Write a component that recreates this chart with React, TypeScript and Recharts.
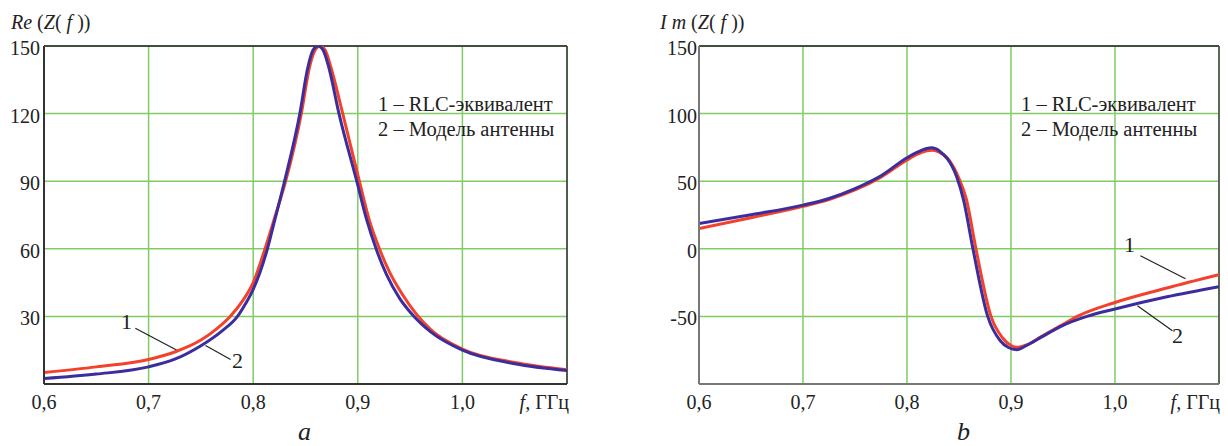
import { CartesianGrid, Line, LineChart, ReferenceLine, XAxis, YAxis } from 'recharts';

// Re(Z(f)) - panel a
const reFreqRlc = [0.6, 0.65, 0.7, 0.725, 0.75, 0.765, 0.778, 0.79, 0.8, 0.8113, 0.82, 0.831, 0.846, 0.854, 0.859, 0.864, 0.869, 0.874, 0.8856, 0.9015, 0.911, 0.9207, 0.93, 0.943, 0.956, 0.97, 1.0, 1.05, 1.1];
const reValsRlc = [5.1, 7.6, 10.9, 14.2, 19.5, 24.5, 30, 37, 45, 60, 73, 90, 120, 141, 148, 150, 148, 141, 120, 90, 72.7, 60, 50, 39.5, 31, 24, 15.5, 9.5, 6.3];
const reFreqModel = [0.6, 0.65, 0.7, 0.725, 0.75, 0.77, 0.785, 0.7925, 0.8, 0.8136, 0.8206, 0.83, 0.8446, 0.852, 0.857, 0.862, 0.867, 0.872, 0.882, 0.899, 0.9086, 0.9175, 0.9275, 0.94, 0.9527, 0.97, 1.0, 1.05, 1.1];
const reValsModel = [2.4, 4.4, 7.6, 11, 17, 23.5, 30, 35.5, 42, 60, 72.7, 90, 120, 140, 148, 150, 148, 141, 120, 90, 72.7, 60, 48.5, 38, 30.5, 23, 15, 9, 6];

// Im(Z(f)) - panel b
const imFreqRlc = [0.6, 0.65, 0.7, 0.725, 0.75, 0.775, 0.8, 0.81, 0.818, 0.824, 0.83, 0.8405, 0.8505, 0.857, 0.8663, 0.8808, 0.892, 0.9, 0.906, 0.915, 0.93, 0.9475, 0.9637, 1.0, 1.05, 1.1];
const imValsRlc = [15, 23, 31.4, 36.5, 43.5, 53, 65.7, 70, 72.4, 72.9, 71.8, 65.5, 51, 37, 0, -50, -66, -71.5, -72.9, -71, -64.5, -57, -50, -39.7, -29, -19.2];
const imFreqModel = [0.6, 0.65, 0.7, 0.725, 0.75, 0.775, 0.8, 0.81, 0.818, 0.824, 0.829, 0.834, 0.8384, 0.848, 0.8544, 0.8634, 0.8776, 0.8897, 0.8975, 0.9056, 0.915, 0.93, 0.9475, 0.973, 1.0, 1.05, 1.1];
const imValsModel = [18.7, 25.2, 32.3, 37.2, 44.5, 54, 67.4, 71.5, 74, 74.8, 73.5, 70.5, 67, 52.7, 36, 0, -50, -68, -73, -74.6, -71.5, -65, -57.5, -50, -44.5, -35.5, -28];

const xTicks = [0.6, 0.7, 0.8, 0.9, 1.0, 1.1];
const reTicks = [30, 60, 90, 120, 150];
const imTicks = [-50, 0, 50, 100, 150];

const zip = (fs: number[], vs: number[]) => fs.map((f, i) => ({ f, v: vs[i] }));

const FONT = "'Liberation Serif', 'Times New Roman', serif";
const txt = { fontFamily: FONT };
const GRID = '#7fcb66';
const RED = '#f3412b';
const BLUE = '#3b2d9e';

const XTick = (props: any) => {
  const { x, y, payload } = props;
  if (payload.value > 1.05) {
    return (
      <text x={x + 2} y={y + 25} textAnchor='end' style={txt} fontSize={20} fill='#222'>
        <tspan fontStyle='italic'>f,</tspan> ГГц
      </text>
    );
  }
  return (
    <text x={x} y={y + 25} textAnchor='middle' style={txt} fontSize={20} fill='#222'>
      {payload.value.toFixed(1).replace('.', ',')}
    </text>
  );
};

const YTick = (props: any) => {
  const { x, y, payload } = props;
  return (
    <text x={x} y={y + 9} textAnchor='end' style={txt} fontSize={20} fill='#222'>
      {payload.value}
    </text>
  );
};

const legend = (x: number) => (
  <g style={txt} fontSize={20.5} fill='#222'>
    <text x={x} y={111}>1 – RLC-эквивалент</text>
    <text x={x} y={136}>2 – Модель антенны</text>
  </g>
);

export default function App() {
  return (
    <div style={{ position: 'absolute', left: 0, top: 0, width: 1228, height: 446, background: '#fff' }}>
      <div style={{ position: 'absolute', left: 0, top: 0 }}>
        <LineChart width={600} height={446} margin={{ top: 46, right: 33, left: 0, bottom: 32 }}>
          <CartesianGrid stroke={GRID} strokeWidth={1.5} />
          <XAxis dataKey='f' type='number' domain={[0.6, 1.1]} ticks={xTicks} allowDataOverflow
            height={30} tickSize={0} tickMargin={0} tick={<XTick />} axisLine={{ stroke: '#333', strokeWidth: 2 }} />
          <YAxis type='number' domain={[0, 150]} ticks={reTicks} allowDataOverflow width={44}
            tickSize={0} tickMargin={4} tick={<YTick />} axisLine={{ stroke: '#333', strokeWidth: 2 }} />
          <ReferenceLine y={150} stroke='#222' strokeWidth={1.5} />
          <ReferenceLine x={1.1} stroke='#333' strokeWidth={1.5} />
          <ReferenceLine segment={[{ x: 0.6873, y: 24.7 }, { x: 0.7276, y: 14.9 }]} stroke='#222' strokeWidth={1.2} />
          <ReferenceLine segment={[{ x: 0.7544, y: 17.1 }, { x: 0.7784, y: 10.9 }]} stroke='#222' strokeWidth={1.2} />
          <Line data={zip(reFreqRlc, reValsRlc)} dataKey='v' type='monotone' stroke={RED} strokeWidth={3} dot={false} isAnimationActive={false} />
          <Line data={zip(reFreqModel, reValsModel)} dataKey='v' type='monotone' stroke={BLUE} strokeWidth={3} dot={false} isAnimationActive={false} />
        </LineChart>
      </div>
      <div style={{ position: 'absolute', left: 640, top: 0 }}>
        <LineChart width={588} height={446} margin={{ top: 46, right: 9, left: 0, bottom: 32 }}>
          <CartesianGrid stroke={GRID} strokeWidth={1.5} />
          <XAxis dataKey='f' type='number' domain={[0.6, 1.1]} ticks={xTicks} allowDataOverflow
            height={30} tickSize={0} tickMargin={0} tick={<XTick />} axisLine={{ stroke: '#777', strokeWidth: 2 }} />
          <YAxis type='number' domain={[-100, 150]} ticks={imTicks} allowDataOverflow width={59}
            tickSize={0} tickMargin={2} tick={<YTick />} axisLine={{ stroke: '#777', strokeWidth: 2 }} />
          <ReferenceLine y={150} stroke='#222' strokeWidth={1.5} />
          <ReferenceLine x={1.1} stroke='#444' strokeWidth={1.5} />
          <ReferenceLine segment={[{ x: 1.0244, y: -5.2 }, { x: 1.0678, y: -22.2 }]} stroke='#222' strokeWidth={1.2} />
          <ReferenceLine segment={[{ x: 1.0216, y: -42.1 }, { x: 1.0552, y: -60.6 }]} stroke='#222' strokeWidth={1.2} />
          <Line data={zip(imFreqRlc, imValsRlc)} dataKey='v' type='monotone' stroke={RED} strokeWidth={3} dot={false} isAnimationActive={false} />
          <Line data={zip(imFreqModel, imValsModel)} dataKey='v' type='monotone' stroke={BLUE} strokeWidth={3} dot={false} isAnimationActive={false} />
        </LineChart>
      </div>
      <svg width={1228} height={446} style={{ position: 'absolute', left: 0, top: 0, pointerEvents: 'none' }}>
        <text x={11} y={29} style={txt} fontSize={20} fill='#222'>
          <tspan fontStyle='italic'>Re</tspan> (<tspan fontStyle='italic'>Z</tspan>( <tspan fontStyle='italic'>f</tspan> ))
        </text>
        <text x={660} y={29} style={txt} fontSize={20} fill='#222'>
          <tspan fontStyle='italic'>I m</tspan> (<tspan fontStyle='italic'>Z</tspan>( <tspan fontStyle='italic'>f</tspan> ))
        </text>
        {legend(378)}
        {legend(1021)}
        <g style={txt} fontSize={22} fill='#222'>
          <text x={121} y={329}>1</text>
          <text x={232} y={368}>2</text>
          <text x={1124} y={252}>1</text>
          <text x={1172} y={343}>2</text>
        </g>
        <text x={298} y={440} style={txt} fontSize={26} fontStyle='italic' fill='#222'>a</text>
        <text x={957} y={440} style={txt} fontSize={26} fontStyle='italic' fill='#222'>b</text>
      </svg>
    </div>
  );
}
